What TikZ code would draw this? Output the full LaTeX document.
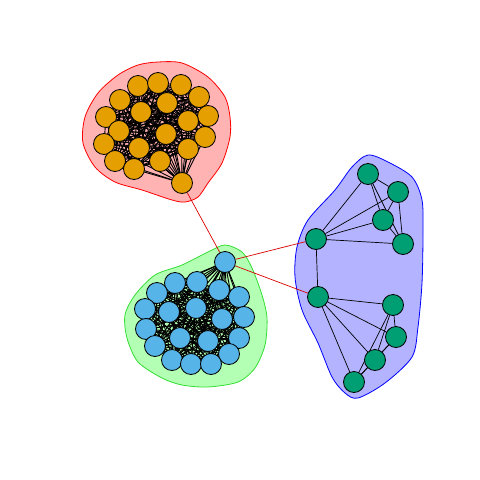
\documentclass[tikz,border=0pt]{standalone}
\pgfdeclarelayer{hull}
\pgfdeclarelayer{edges}
\pgfsetlayers{hull,edges,main}
\definecolor{vorange}{HTML}{E69F00}
\definecolor{vblue}{HTML}{56B4E9}
\definecolor{vteal}{HTML}{009E73}
\definecolor{hfillR}{HTML}{FFB3B3}
\definecolor{hfillG}{HTML}{B3FFB3}
\definecolor{hfillB}{HTML}{B3B3FF}
\definecolor{hdrawG}{HTML}{33DD33}
\begin{document}
\begin{tikzpicture}[x=1pt,y=-1pt,
  vtx/.style={circle,draw=black,line width=0.8pt,minimum size=21pt,inner sep=0pt},
  cedge/.style={black,line width=0.9pt},
  tedge/.style={black,line width=0.7pt},
  xedge/.style={red!85!black,line width=0.7pt},
  hullstyle/.style={line width=0.8pt}]
\useasboundingbox (0,0) rectangle (480,480);
% nodes
\foreach \n/\x/\y in {1/138/86,2/158/83,3/181/85,4/199/97,5/120/100,6/167/103,7/141/112,8/208/116,9/106/117,10/188/121,11/119/131,12/166/134,13/205/137,14/104/144,15/139/148,16/188/149,17/115/161,18/160/161,19/134/169,20/182/183}
  \node[vtx,fill=vorange] (o\n) at (\x,\y) {};
\foreach \n/\x/\y in {1/225/262,2/175/283,3/197/282,4/219/290,5/157/293,6/239/297,7/196/308,8/145/309,9/169/312,10/222/319,11/244/317,12/146/329,13/180/338,14/208/341,15/239/338,16/155/346,17/229/354,18/172/360,19/191/364,20/211/364}
  \node[vtx,fill=vblue] (b\n) at (\x,\y) {};
\foreach \n/\x/\y in {1/368/174,2/398/192,3/383/220,4/403/244,5/316/239,6/318/297,7/393/305,8/396/337,9/375/360,10/354/382}
  \node[vtx,fill=vteal] (t\n) at (\x,\y) {};
% edges
\begin{pgfonlayer}{edges}
\foreach \i in {1,...,19}{
  \pgfmathtruncatemacro\jj{\i+1}
  \foreach \k in {\jj,...,20}{
    \draw[cedge] (o\i.center) -- (o\k.center);
    \draw[cedge] (b\i.center) -- (b\k.center);
  }
}
\foreach \a/\b in {1/2,1/3,1/4,1/5,2/3,2/4,2/5,3/4,3/5,4/5,6/7,6/8,6/9,6/10,7/8,7/9,7/10,8/9,8/10,9/10,5/6}
  \draw[tedge] (t\a) -- (t\b);
\draw[xedge] (o20) -- (b1);
\draw[xedge] (b1) -- (t5);
\draw[xedge] (b1) -- (t6);
\end{pgfonlayer}
% hulls
\begin{pgfonlayer}{hull}
\draw[hullstyle,draw=red,fill=hfillR] plot[smooth cycle] coordinates {(158,62) (182,63) (208,77) (225,97) (230,117) (230,137) (222,163) (208,183) (198,197) (185,202) (172,200) (142,190) (115,182) (95,167) (83,143) (85,117) (98,93) (118,75) (138,65)};
\draw[hullstyle,draw=hdrawG,fill=hfillG] plot[smooth cycle] coordinates {(225,245) (242,252) (252,268) (262,295) (267,318) (265,345) (255,368) (238,382) (208,387) (182,385) (162,378) (138,362) (127,338) (125,315) (135,295) (155,275) (182,265) (208,252)};
\draw[hullstyle,draw=blue,fill=hfillB] plot[smooth cycle] coordinates {(368,155) (388,162) (412,177) (422,200) (423,233) (422,283) (418,327) (412,357) (385,383) (358,398) (345,393) (332,377) (318,343) (302,310) (295,277) (297,247) (308,220) (335,190) (352,167)};
\end{pgfonlayer}
\end{tikzpicture}
\end{document}
